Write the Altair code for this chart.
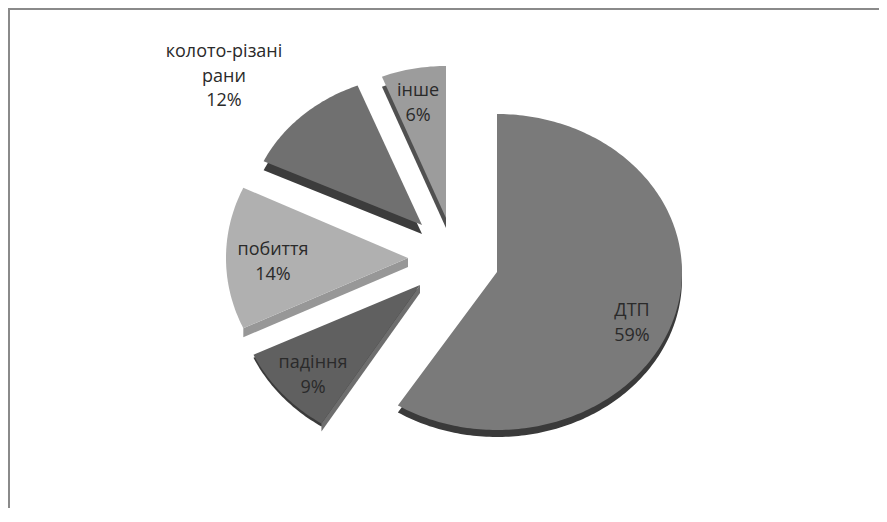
import math
import altair as alt

# ---- values ----
categories = ["ДТП", "падіння", "побиття", "колото-різані рани", "інше"]
shares = [59, 9, 14, 12, 6]
percent_labels = ["59%", "9%", "14%", "12%", "6%"]

# ---- styling / layout (page pixels) ----
face_colors = ["#7a7a7a", "#606060", "#b0b0b0", "#707070", "#9c9c9c"]
rim_colors = ["#3a3a3a", "#3a3a3a", "#979797", "#3c3c3c", "#505050"]
wall_colors = ["#3a3a3a", "#6e6e6e", "#979797", "#3c3c3c", "#505050"]
apex_x = [497, 420, 408, 422, 446]
apex_y = [272, 285, 258, 225, 218]
radius_x = [185, 184, 182, 175, 174]
radius_y = [158, 164, 165, 150, 152]
rim_depth = [7, 3, 0, 9, 10]
wall_depth = [0, 8, 9, 0, 0]
label_lines = [["ДТП"], ["падіння"], ["побиття"], ["колото-різані", "рани"], ["інше"]]
label_x = [632, 313, 273, 224, 418]
label_y = [311, 363, 250, 52, 91]
LINE = 24.5
ORIGIN = 10  # chart origin on the page


def edge_point(i, angle, dy=0.0):
    a = math.radians(angle)
    return [apex_x[i] - ORIGIN + radius_x[i] * math.sin(a),
            apex_y[i] - ORIGIN + dy - radius_y[i] * math.cos(a)]


def wedge(i, start, end, dy=0.0):
    apex = [apex_x[i] - ORIGIN, apex_y[i] - ORIGIN + dy]
    n = max(2, int(end - start))
    arc = [edge_point(i, start + (end - start) * k / n, dy) for k in range(n + 1)]
    return [apex] + arc + [apex]


def wall(i, angle, depth):
    top = [apex_x[i] - ORIGIN, apex_y[i] - ORIGIN]
    low = [top[0], top[1] + depth]
    return [top, edge_point(i, angle), edge_point(i, angle, depth), low, top]


features, domain, palette, texts = [], [], [], []


def add_shape(key, color, ring):
    features.append({
        "type": "Feature",
        "properties": {"key": key, "order": len(features)},
        "geometry": {"type": "Polygon", "coordinates": [ring]},
    })
    domain.append(key)
    palette.append(color)


start = 0.0
total = sum(shares)
for i, name in enumerate(categories):
    end = start + 360.0 * shares[i] / total
    if rim_depth[i]:
        add_shape(f"{name} rim", rim_colors[i], wedge(i, start, end, rim_depth[i]))
    if wall_depth[i]:
        add_shape(f"{name} wall", wall_colors[i], wall(i, start, wall_depth[i]))
    add_shape(name, face_colors[i], wedge(i, start, end))
    lines = label_lines[i] + [percent_labels[i]]
    for j, line in enumerate(lines):
        texts.append({"t": line, "x": label_x[i] - ORIGIN, "y": label_y[i] - ORIGIN + j * LINE})
    start = end

W, H = 869, 498

projection = alt.Projection(type="identity", scale=1, translate=[0, 0])
slices = (
    alt.Chart(alt.InlineData(values={"type": "FeatureCollection", "features": features},
                             format=alt.DataFormat(type="json", property="features")))
    .mark_geoshape(strokeWidth=0)
    .encode(
        color=alt.Color("properties.key:N", scale=alt.Scale(domain=domain, range=palette), legend=None),
        order=alt.Order("properties.order:Q"),
    )
    .project(**projection.to_dict())
)

labels = (
    alt.Chart(alt.Data(values=texts))
    .mark_text(font="Open Sans", fontSize=18, color="#2a2a2a", align="center", baseline="middle")
    .encode(
        x=alt.X("x:Q", scale=None, axis=None),
        y=alt.Y("y:Q", scale=None, axis=None),
        text="t:N",
    )
)

frame_top = alt.Chart(alt.Data(values=[{"a": 0}])).mark_rule(color="#8a8a8a", strokeWidth=2).encode(
    x=alt.value(-2), x2=alt.value(W), y=alt.value(-1)
)
frame_left = alt.Chart(alt.Data(values=[{"a": 0}])).mark_rule(color="#8a8a8a", strokeWidth=2).encode(
    x=alt.value(-1), y=alt.value(-1), y2=alt.value(H)
)

chart = (
    alt.layer(slices, labels, frame_top, frame_left)
    .resolve_scale(x="independent", y="independent")
    .properties(width=W, height=H, padding={"left": 2, "top": 2, "right": 0, "bottom": 0},
                autosize=alt.AutoSizeParams(type="none"), background="white")
    .configure_view(stroke=None)
)
chart.save("out.html", embed_options={"renderer": "svg", "actions": False})
